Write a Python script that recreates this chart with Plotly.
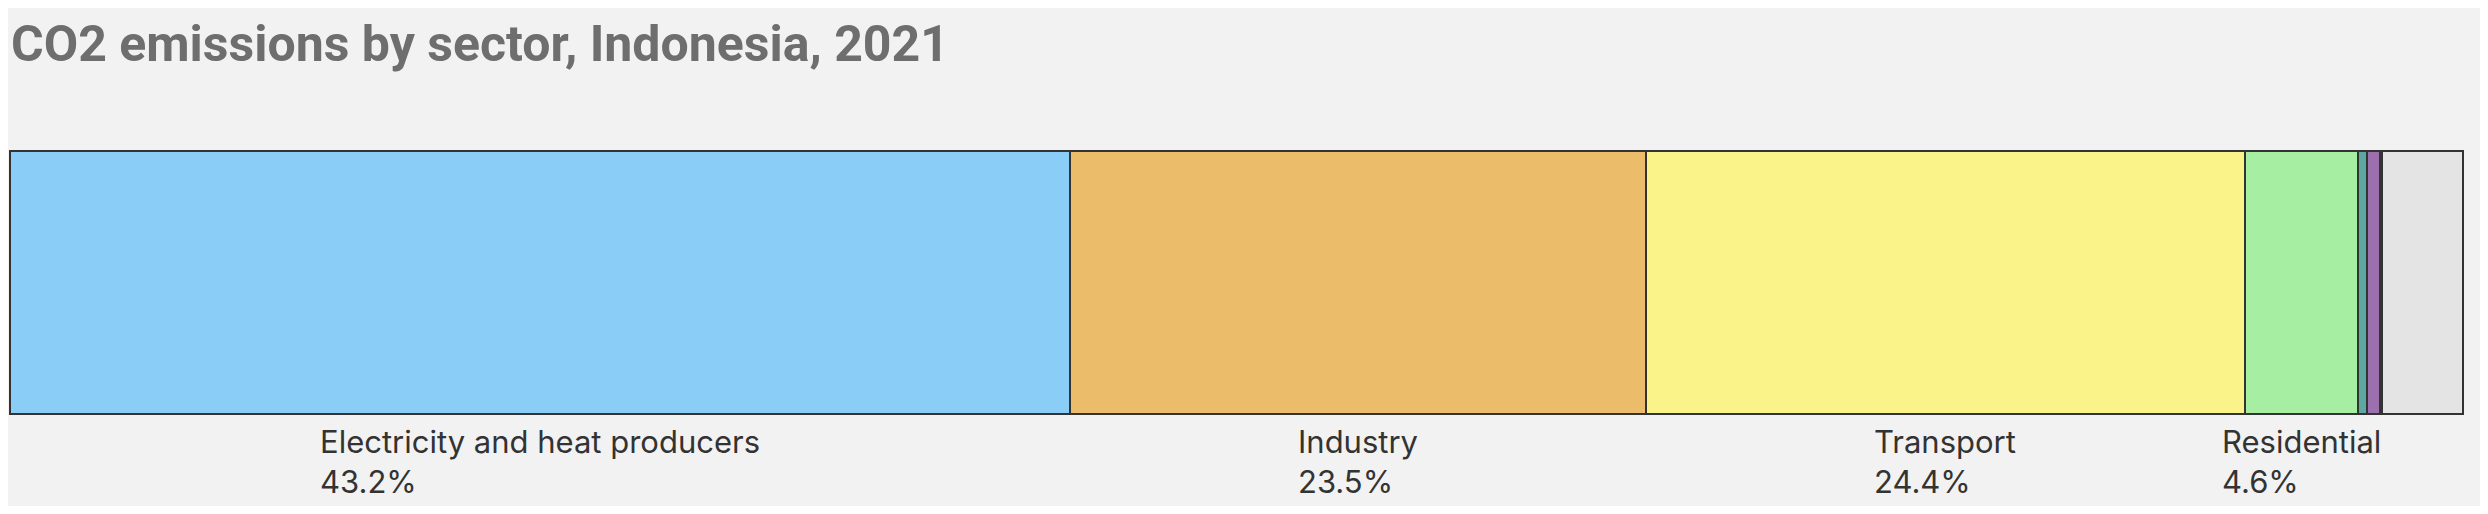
import plotly.graph_objects as go
import numpy as np

# Sectors and shares of CO2 emissions (%)
sectors = ["Electricity and heat producers", "Industry", "Transport", "Residential",
           "Commercial and public services", "Agriculture", "Fishing", "Other"]
shares = [43.2, 23.5, 24.4, 4.6, 0.37, 0.53, 0.08, 3.32]
colors = ["#8ACDF6", "#EBBC6A", "#F9F38A", "#A6EEA2", "#5DA9A2", "#9C70AF", "#3E2C5E", "#E4E4E4"]

# Sectors that carry a label below the bar
labelled = ["Electricity and heat producers", "Industry", "Transport", "Residential"]

fig = go.Figure()
for name, val, col in zip(sectors, shares, colors):
    fig.add_trace(go.Bar(
        x=[val], y=["Indonesia"], orientation="h", name=name,
        marker=dict(color=col, line=dict(color="#333333", width=2)),
        hovertemplate=name + ": %{x:.1f}%<extra></extra>",
    ))

cum = np.cumsum([0] + shares)
for i, (name, val) in enumerate(zip(sectors, shares)):
    if name not in labelled:
        continue
    mid = (cum[i] + cum[i + 1]) / 2
    fig.add_annotation(
        x=mid, xref="x", y=0, yref="paper", yanchor="top", xanchor="center",
        text=f"{name}<br>{val:.1f}%", showarrow=False, align="left",
        font=dict(family="Inter", size=31, color="#333333"), yshift=-5,
    )

W, H = 2472, 498
px_per = 2453 / 100.0
fig.update_layout(
    width=W, height=H,
    barmode="stack", bargap=0, showlegend=False,
    paper_bgcolor="#F2F2F2", plot_bgcolor="#F2F2F2",
    margin=dict(l=0, r=15, t=141, b=90),
    xaxis=dict(range=[-2 / px_per, 100 + 2 / px_per], visible=False, fixedrange=True),
    yaxis=dict(range=[-0.5 * 267 / 263, 0.5 * 267 / 263], visible=False, fixedrange=True),
    title=dict(text="<b>CO2 emissions by sector, Indonesia, 2021</b>",
               x=3 / W, xref="container", xanchor="left",
               y=1 - 35 / H, yref="container", yanchor="middle",
               font=dict(family="Roboto", size=50, color="#6E6E6E")),
)
fig.write_html("out.html")
